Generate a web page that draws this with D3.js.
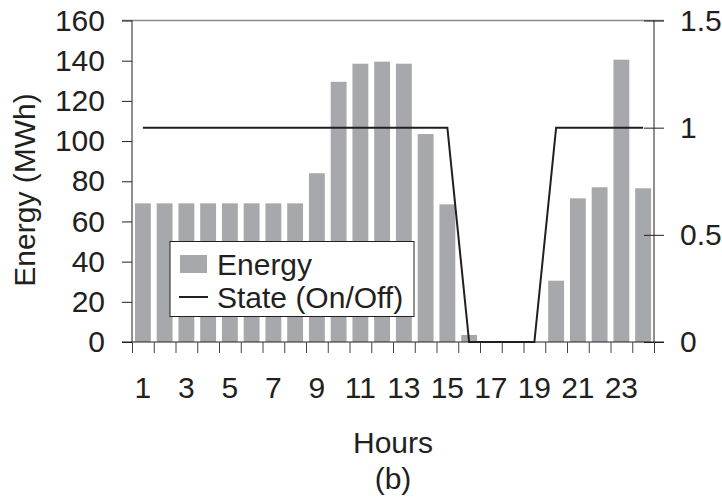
<!DOCTYPE html>
<html><head><meta charset="utf-8">
<script src="https://cdn.jsdelivr.net/npm/d3@7"></script>
<style>body{margin:0;background:#fff}svg{display:block}text{font-family:"Liberation Sans",Arial,sans-serif;fill:#231f20}</style>
</head><body><div id="chart"></div>
<script>
const hours = d3.range(1, 25);
const energy = [69,69,69,69,69,69,69,69,84,129.5,138.5,139.5,138.5,103.5,68.5,3.5,0,0,0,30.5,71.5,77,140.5,76.5];
const state = [1,1,1,1,1,1,1,1,1,1,1,1,1,1,1,0,0,0,0,1,1,1,1,1];
const leftTicks = [0,20,40,60,80,100,120,140,160];
const rightTicks = [0,0.5,1,1.5];
const xLabels = [1,3,5,7,9,11,13,15,17,19,21,23];

const W = 722, H = 500;
const L = 132, R = 654, T = 20.5, B = 342;
const svg = d3.select("#chart").append("svg").attr("width", W).attr("height", H);

const x = d3.scaleBand().domain(hours).range([L, R]).paddingInner(0.27).paddingOuter(0.135);
const xb = d3.scaleLinear().domain([0, 24]).range([L, R]);
const yL = d3.scaleLinear().domain([0, 160]).range([B, T]);
const yR = d3.scaleLinear().domain([0, 1.5]).range([B, T]);
const fs = 30, ink = "#231f20";

// top border
svg.append("line").attr("x1", L - 10).attr("x2", R + 10).attr("y1", yL(160)).attr("y2", yL(160)).attr("stroke", "#8a8a8a").attr("stroke-width", 1.3);

// bars
svg.append("g").selectAll("rect").data(hours).join("rect")
  .attr("x", h => x(h)).attr("width", x.bandwidth())
  .attr("y", (h, i) => yL(energy[i])).attr("height", (h, i) => B - yL(energy[i]))
  .attr("fill", "#a7a8ab");

// left axis
const gl = svg.append("g").attr("transform", `translate(${L},0)`)
  .call(d3.axisLeft(yL).tickValues(leftTicks).tickSize(10).tickPadding(17).tickFormat(d3.format("d")));
gl.selectAll("text").style("font-size", fs + "px").attr("fill", ink);
gl.selectAll("line").attr("stroke", ink);
gl.select(".domain").attr("stroke", ink).attr("d", `M0,${T}V${B}`);

// right axis
const gr = svg.append("g").attr("transform", `translate(${R},0)`)
  .call(d3.axisRight(yR).tickValues(rightTicks).tickSize(10).tickPadding(16).tickFormat(d => d));
gr.selectAll("text").style("font-size", fs + "px").attr("fill", ink);
gr.selectAll(".tick line").attr("stroke", ink).attr("x1", -10);
gr.select(".domain").attr("stroke", ink).attr("d", `M0,${T}V${B}`);

// bottom axis: boundary ticks
const gb = svg.append("g").attr("transform", `translate(0,${B})`)
  .call(d3.axisBottom(xb).tickValues(d3.range(0, 25)).tickSize(11).tickFormat(""));
gb.selectAll("line").attr("stroke", "#444");
gb.select(".domain").attr("stroke", ink).attr("d", `M${L - 10},0H${R + 10}`);

// x labels
svg.append("g").selectAll("text").data(xLabels).join("text")
  .attr("x", h => x(h) + x.bandwidth() / 2).attr("y", 398)
  .attr("text-anchor", "middle").style("font-size", fs + "px").text(d => d);

// state line
const line = d3.line().x((d, i) => x(hours[i]) + x.bandwidth() / 2).y(d => yR(d));
svg.append("path").datum(state).attr("d", line).attr("fill", "none").attr("stroke", ink).attr("stroke-width", 2);

// titles
svg.append("text").attr("transform", "translate(35,190) rotate(-90)").attr("text-anchor", "middle").style("font-size", fs + "px").text("Energy (MWh)");
svg.append("text").attr("x", 393).attr("y", 453).attr("text-anchor", "middle").style("font-size", fs + "px").text("Hours");
svg.append("text").attr("x", 393).attr("y", 489).attr("text-anchor", "middle").style("font-size", fs + "px").text("(b)");

// legend
const lg = svg.append("g");
lg.append("rect").attr("x", 170).attr("y", 241.5).attr("width", 244).attr("height", 75).attr("fill", "#fff").attr("stroke", ink).attr("stroke-width", 1);
lg.append("rect").attr("x", 180).attr("y", 255).attr("width", 27).attr("height", 18).attr("fill", "#a7a8ab");
lg.append("text").attr("x", 217).attr("y", 275).style("font-size", fs + "px").text("Energy");
lg.append("line").attr("x1", 179).attr("x2", 208).attr("y1", 297).attr("y2", 297).attr("stroke", ink).attr("stroke-width", 2);
lg.append("text").attr("x", 217).attr("y", 308).style("font-size", fs + "px").text("State (On/Off)");
</script></body></html>
